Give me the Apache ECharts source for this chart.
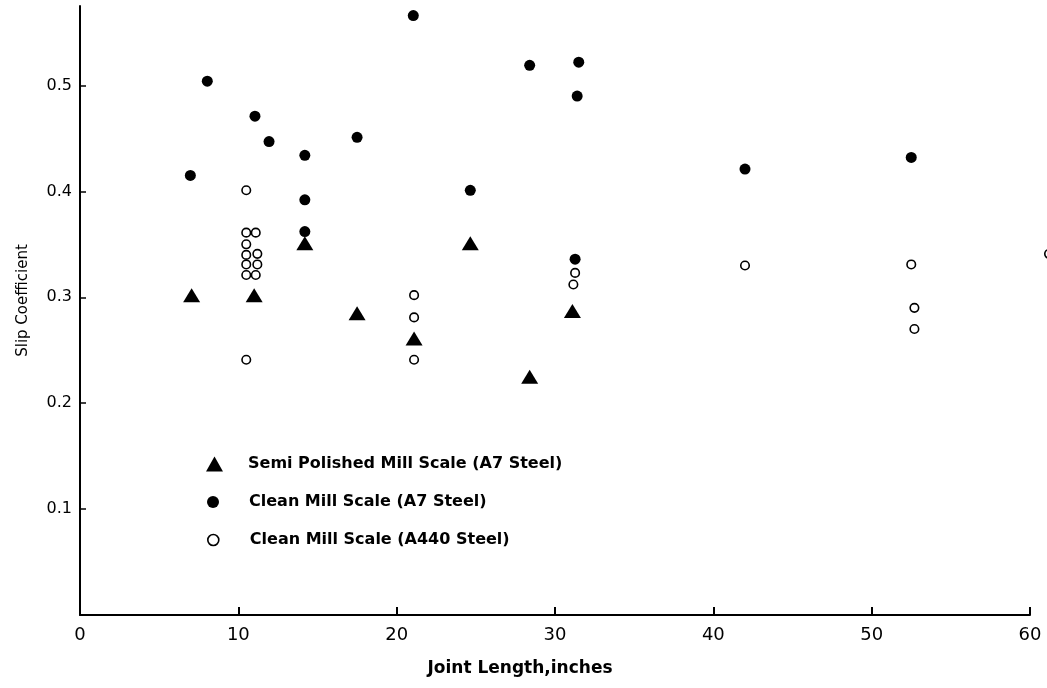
<!DOCTYPE html>
<html>
<head>
<meta charset="utf-8">
<script src="https://cdn.jsdelivr.net/npm/echarts@6/dist/echarts.min.js"></script>
<style>
  html, body { margin: 0; padding: 0; background: #fff; }
  #chart { width: 1047px; height: 688px; }
</style>
</head>
<body>
<div id="chart"></div>
<script>
// Slip coefficient versus joint length, three surface conditions.
// Each series is a list of [joint length (in), slip coefficient].
const semiPolishedA7 = [
  [7.05, 0.302], [11.0, 0.302], [14.2, 0.351], [17.5, 0.285],
  [21.1, 0.261], [24.65, 0.351], [28.4, 0.225], [31.1, 0.287]
];
const cleanA7 = [
  [6.97, 0.415], [8.04, 0.504], [11.05, 0.471], [11.94, 0.447],
  [14.2, 0.434], [14.2, 0.392], [14.2, 0.362], [17.5, 0.451],
  [21.05, 0.566], [24.65, 0.401], [28.4, 0.519], [31.5, 0.522],
  [31.4, 0.490], [31.27, 0.336], [42.0, 0.421], [52.5, 0.432]
];
const cleanA440 = [
  [10.5, 0.401], [10.5, 0.361], [11.1, 0.361], [10.5, 0.350],
  [10.5, 0.340], [11.2, 0.341], [10.5, 0.331], [11.2, 0.331],
  [10.5, 0.321], [11.1, 0.321], [10.5, 0.241],
  [21.1, 0.302], [21.1, 0.281], [21.1, 0.241],
  [31.27, 0.323], [31.16, 0.312],
  [42.0, 0.330], [52.5, 0.331], [52.7, 0.290], [52.7, 0.270],
  [61.2, 0.341]
];

const seriesNames = [
  'Semi Polished Mill Scale (A7 Steel)',
  'Clean Mill Scale (A7 Steel)',
  'Clean Mill Scale (A440 Steel)'
];
const xTicks = [10, 20, 30, 40, 50, 60];
const xTickLabels = [0, 10, 20, 30, 40, 50, 60];
const yTicks = [0.1, 0.2, 0.3, 0.4, 0.5];

const FONT = 'DejaVu Sans';
const chart = echarts.init(document.getElementById('chart'), null, { renderer: 'canvas' });

function legendBlock(name, icon, w, h, left, top, padLeft, style) {
  return {
    show: true,
    orient: 'vertical',
    left: left,
    top: top,
    padding: 0,
    itemWidth: w,
    itemHeight: h,
    data: [{ name: name, icon: icon, itemStyle: style }],
    selectedMode: false,
    textStyle: {
      fontFamily: FONT, fontSize: 16, fontWeight: 'bold', color: '#000',
      padding: [0, 0, 0, padLeft]
    }
  };
}

chart.setOption({
  backgroundColor: '#fff',
  animation: false,
  grid: {
    left: 80, right: 17, top: 6, bottom: 73,
    containLabel: false, outerBoundsMode: 'none'
  },
  xAxis: {
    type: 'value',
    min: 0, max: 60,
    name: 'Joint Length,inches',
    nameLocation: 'middle',
    nameGap: 45,
    nameTextStyle: {
      fontFamily: FONT, fontSize: 17, fontWeight: 'bold', color: '#000',
      padding: [0, 70, 0, 0]
    },
    axisLine: { show: true, onZero: false, lineStyle: { color: '#000', width: 2 } },
    axisTick: {
      show: true, inside: true, length: 8, customValues: xTicks,
      lineStyle: { color: '#000', width: 2 }
    },
    axisLabel: {
      customValues: xTickLabels, margin: 11,
      fontFamily: FONT, fontSize: 18, color: '#000'
    },
    splitLine: { show: false }
  },
  yAxis: {
    type: 'value',
    min: 0, max: 0.575,
    name: 'Slip Coefficient',
    nameLocation: 'middle',
    nameGap: 49,
    nameTextStyle: {
      fontFamily: FONT, fontSize: 15, color: '#000',
      padding: [0, 0, 0, 20]
    },
    axisLine: { show: true, onZero: false, lineStyle: { color: '#000', width: 2 } },
    axisTick: {
      show: true, inside: true, length: 6, customValues: yTicks,
      lineStyle: { color: '#000', width: 1.5 }
    },
    axisLabel: {
      customValues: yTicks, margin: 8,
      fontFamily: FONT, fontSize: 16, color: '#000',
      formatter: v => v.toFixed(1)
    },
    splitLine: { show: false }
  },
  legend: [
    legendBlock(seriesNames[0], 'triangle', 17, 15, 206, 456, 20, { color: '#000' }),
    legendBlock(seriesNames[1], 'circle', 12, 12, 207, 494, 25, { color: '#000' }),
    legendBlock(seriesNames[2], 'circle', 11, 11, 207, 532, 26,
      { color: '#fff', borderColor: '#000', borderWidth: 1.6 })
  ],
  series: [
    {
      name: seriesNames[0], type: 'scatter', data: semiPolishedA7, clip: false,
      symbol: 'triangle', symbolSize: [17, 14],
      itemStyle: { color: '#000', opacity: 1 }
    },
    {
      name: seriesNames[1], type: 'scatter', data: cleanA7, clip: false,
      symbol: 'circle', symbolSize: 11,
      itemStyle: { color: '#000', opacity: 1 }
    },
    {
      name: seriesNames[2], type: 'scatter', data: cleanA440, clip: false,
      symbol: 'circle', symbolSize: 8.5,
      itemStyle: { color: '#fff', borderColor: '#000', borderWidth: 1.6, opacity: 1 }
    }
  ]
});
</script>
</body>
</html>
